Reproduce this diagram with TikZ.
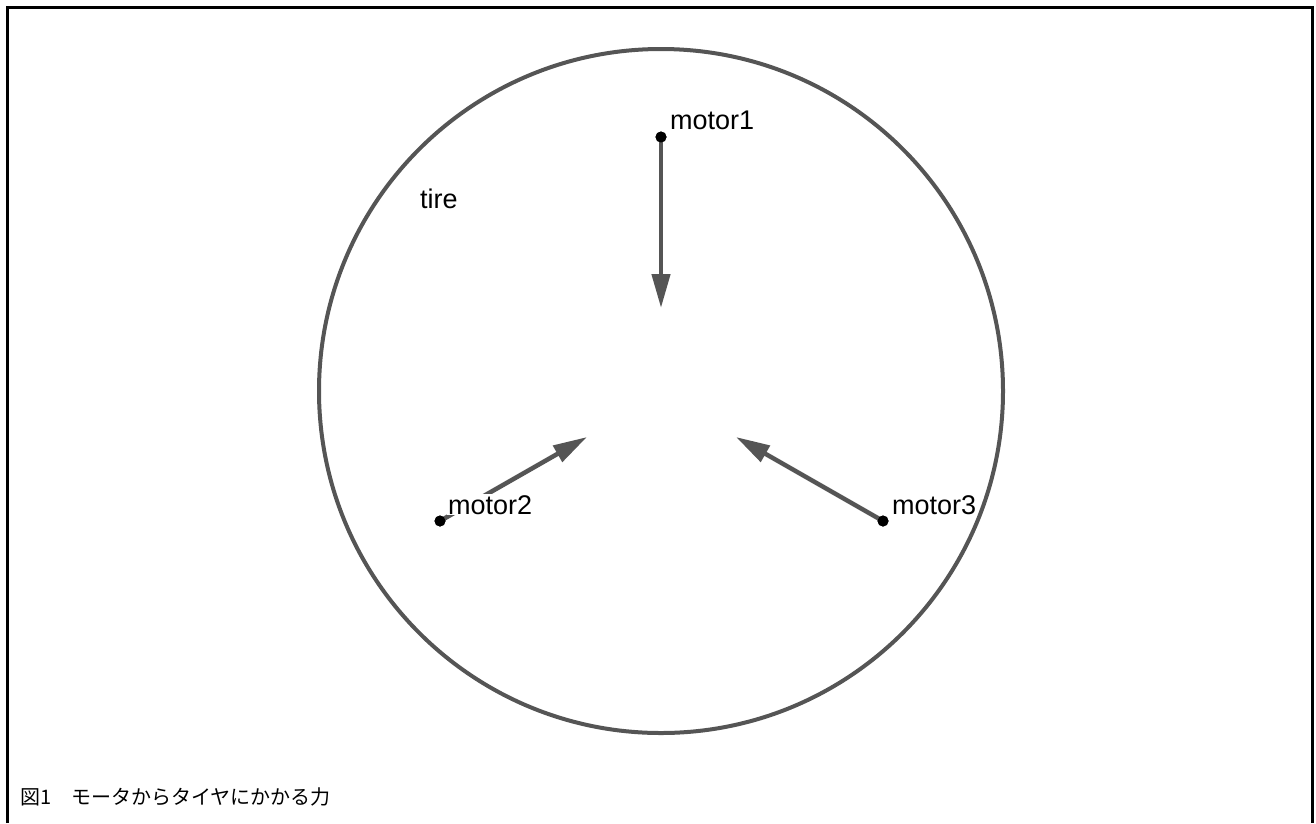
\documentclass[tikz,border=0pt]{standalone}
\usepackage{fontspec}
\setmainfont{Liberation Sans}
\newfontfamily\cjk{Noto Sans CJK JP}
\usetikzlibrary{arrows.meta}
\definecolor{ink}{HTML}{555555}
\tikzset{
  force/.style={draw=ink, line width=4.5pt, -{Triangle[length=34pt,width=18pt]}},
  dotpt/.style={circle, fill=black, inner sep=0pt, minimum size=11pt},
  lbl/.style={font=\fontsize{27}{30}\selectfont, inner sep=1pt, anchor=base west},
  lblbg/.style={lbl, fill=white},
}
\begin{document}
\begin{tikzpicture}[x=1pt,y=-1pt]
\useasboundingbox (0,0) rectangle (1316,823);
% frame (open at bottom)
\draw[line width=3pt] (7,823) -- (7,7) -- (1312,7) -- (1312,823);
% tire
\node[draw=ink, line width=4pt, circle, minimum size=684pt, inner sep=0pt] (tire) at (661,391) {};
\node[lbl] (tirelbl) at (419,208) {tire};
% motors
\node[dotpt] (m1) at (661,137) {};
\node[dotpt] (m2) at (440,521) {};
\node[dotpt] (m3) at (883,521) {};
\coordinate (t1) at (661,308);
\coordinate (t2) at (587,437);
\coordinate (t3) at (736,437);
\draw[force] (m1.center) -- (t1);
\draw[force] (m2.center) -- (t2);
\draw[force] (m3.center) -- (t3);
\node[dotpt] at (m1) {};
\node[dotpt] at (m3) {};
\node[lbl] (l1) at (669,129) {motor1};
\node[lblbg] (l2) at (447,514) {motor2};
\node[lbl] (l3) at (891,514) {motor3};
\node[dotpt] at (m2) {};
% caption
\node[anchor=base west, inner sep=0pt, font=\cjk\fontsize{20}{24}\selectfont] (cap) at (20,804) {図1　モータからタイヤにかかる力};
\end{tikzpicture}
\end{document}
